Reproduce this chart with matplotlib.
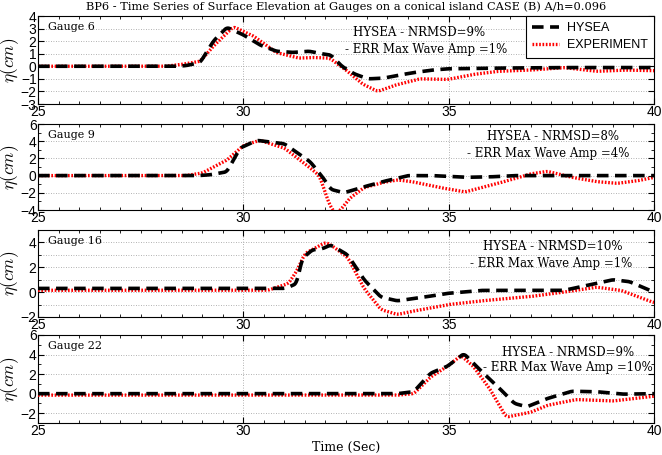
import numpy as np
import matplotlib
matplotlib.use('Agg')
import matplotlib.pyplot as plt
from matplotlib.ticker import MultipleLocator

# Gauge 6
t_hy6 = [25, 28.3, 28.6, 28.95, 29.27, 29.6, 30.0, 30.4, 30.8, 31.2, 31.6, 31.9, 32.13, 32.4, 32.7, 33.03, 33.4, 33.8, 34.15, 34.6, 34.97, 36, 37, 38, 39, 40]
e_hy6 = [0, 0, 0.05, 0.3, 2.0, 3.1, 2.5, 1.7, 1.2, 1.1, 1.2, 1.0, 0.9, 0.0, -0.6, -1.0, -0.95, -0.7, -0.5, -0.3, -0.2, -0.15, -0.12, -0.1, -0.1, -0.1]
t_ex6 = [25, 28.1, 28.5, 28.95, 29.27, 29.76, 30.25, 30.8, 31.35, 31.7, 32.1, 32.5, 32.9, 33.27, 33.7, 34.3, 34.97, 35.6, 36.2, 37.0, 37.8, 38.6, 39.3, 40]
e_ex6 = [0, 0, 0.15, 0.4, 1.6, 3.15, 2.4, 1.1, 0.65, 0.7, 0.65, -0.3, -1.4, -2.0, -1.5, -1.0, -1.05, -0.65, -0.4, -0.3, -0.1, -0.4, -0.3, -0.35]

# Gauge 9
t_hy9 = [25, 28.9, 29.2, 29.6, 29.92, 30.33, 31.0, 31.63, 31.95, 32.13, 32.45, 32.94, 33.4, 33.75, 34.0, 34.6, 35.4, 36.0, 36.6, 38, 40]
e_hy9 = [0, 0, 0.1, 0.45, 3.2, 4.1, 3.7, 1.6, -0.3, -1.6, -2.0, -1.3, -0.7, -0.3, 0.0, 0.0, -0.2, -0.15, 0.0, 0.0, 0.0]
t_ex9 = [25, 28.6, 29.0, 29.6, 30.0, 30.4, 31.0, 31.6, 31.85, 32.1, 32.25, 32.4, 32.6, 32.94, 33.4, 33.75, 34.1, 34.8, 35.4, 36.2, 37.0, 37.4, 38.0, 38.6, 39.1, 39.6, 40]
e_ex9 = [0, 0, 0.3, 1.8, 3.5, 4.1, 3.2, 1.0, 0.0, -3.4, -4.5, -3.8, -2.6, -1.4, -0.8, -0.5, -0.7, -1.4, -1.9, -0.9, 0.2, 0.5, -0.2, -0.7, -0.9, -0.6, -0.2]

# Gauge 16
t_hy16 = [25, 31.0, 31.1, 31.3, 31.43, 31.68, 31.93, 32.13, 32.54, 32.94, 33.35, 33.75, 34.4, 34.97, 35.8, 37.8, 38.6, 39.0, 39.4, 40]
e_hy16 = [0.3, 0.3, 0.4, 0.7, 2.7, 3.4, 3.5, 3.8, 3.0, 1.0, -0.4, -0.7, -0.4, -0.1, 0.14, 0.14, 0.7, 1.0, 0.85, 0.0]
t_ex16 = [25, 30.6, 31.1, 31.3, 31.5, 32.0, 32.13, 32.54, 32.94, 33.35, 33.75, 34.1, 35.0, 35.8, 37.0, 37.8, 38.6, 39.2, 40]
e_ex16 = [0.15, 0.15, 0.7, 1.7, 3.1, 4.0, 3.8, 2.8, 0.3, -1.4, -1.8, -1.55, -1.0, -0.7, -0.35, 0.0, 0.4, 0.14, -0.85]

# Gauge 22
t_hy22 = [25, 33.75, 34.15, 34.56, 34.97, 35.37, 35.77, 36.2, 36.6, 36.9, 37.4, 38.0, 38.6, 39.25, 40]
e_hy22 = [0, 0, 0.2, 2.1, 2.8, 4.1, 2.4, 0.7, -1.0, -1.35, -0.5, 0.25, 0.2, -0.05, 0.0]
t_ex22 = [25, 33.75, 34.15, 34.56, 34.97, 35.3, 35.6, 36.0, 36.4, 37.0, 37.4, 38.1, 39.0, 40]
e_ex22 = [-0.15, -0.15, 0.0, 1.7, 2.8, 3.9, 2.8, 0.5, -2.4, -1.9, -1.2, -0.6, -0.75, -0.25]

gauges = ['Gauge 6', 'Gauge 9', 'Gauge 16', 'Gauge 22']
nrmsd = ['9%', '8%', '10%', '9%']
err_amp = ['1%', '4%', '1%', '10%']
ylims = [(-3, 4), (-4, 6), (-2, 5), (-3, 6)]

hysea = [(t_hy6, e_hy6), (t_hy9, e_hy9), (t_hy16, e_hy16), (t_hy22, e_hy22)]
exper = [(t_ex6, e_ex6), (t_ex9, e_ex9), (t_ex16, e_ex16), (t_ex22, e_ex22)]


def smooth(t, e):
    tt = np.linspace(t[0], t[-1], 800)
    ee = np.interp(tt, t, e)
    k = np.ones(7) / 7
    ee = np.convolve(np.pad(ee, 3, mode='edge'), k, mode='valid')
    return tt, ee


plt.rcParams['mathtext.fontset'] = 'cm'
sans = 'Liberation Sans'
serif = 'DejaVu Serif'

fig = plt.figure(figsize=(6.62, 4.55), dpi=100)
W, H = 662, 455
boxes = [(16, 104), (124, 210), (230, 317), (335, 423)]
text_pos = [((419, 33), (426, 50)), ((553, 136), (548, 154)),
            ((553, 247), (551, 264)), ((568, 352), (568, 368))]

for i in range(4):
    top, bot = boxes[i]
    ax = fig.add_axes([38 / W, 1 - bot / H, 616 / W, (bot - top) / H])
    th, eh = smooth(*hysea[i])
    tx, ex = smooth(*exper[i])
    ax.plot(tx, ex, color='red', lw=2.4, linestyle=(0, (0.5, 0.5)), label='EXPERIMENT', zorder=3)
    ax.plot(th, eh, color='black', lw=2.6, linestyle=(0, (3.2, 1.8)), label='HYSEA', zorder=4)
    ax.set_xlim(25, 40)
    ax.set_ylim(*ylims[i])
    ax.xaxis.set_major_locator(MultipleLocator(5))
    ax.xaxis.set_minor_locator(MultipleLocator(0.5))
    if i == 0:
        ax.yaxis.set_major_locator(MultipleLocator(1))
    else:
        ax.yaxis.set_major_locator(MultipleLocator(2))
        ax.yaxis.set_minor_locator(MultipleLocator(1))
    ax.grid(True, which='major', linestyle=(0, (1, 2)), color='#999999', lw=0.6)
    if i == 2:
        ax.grid(True, which='minor', axis='y', linestyle=(0, (1, 2)), color='#999999', lw=0.6)
    ax.tick_params(which='both', direction='in', top=True, right=True, labelsize=10, pad=1)
    ax.tick_params(which='major', length=4)
    ax.tick_params(which='minor', length=2.5)
    for lab in ax.get_xticklabels() + ax.get_yticklabels():
        lab.set_family(sans)
    for s in ax.spines.values():
        s.set_linewidth(0.8)
    ax.set_ylabel(r'$\eta(cm)$', fontsize=12.5)
    ax.yaxis.set_label_coords(-0.027, 0.5)
    ax.text(0.016, 0.84, gauges[i], transform=ax.transAxes, family=serif, fontsize=8)
    (x1, y1), (x2, y2) = text_pos[i]
    fig.text(x1 / W, 1 - y1 / H, 'HYSEA - NRMSD=' + nrmsd[i], family=serif, fontsize=8.5,
             ha='center', va='center')
    fig.text(x2 / W, 1 - y2 / H, '- ERR Max Wave Amp =' + err_amp[i], family=serif, fontsize=8.5,
             ha='center', va='center')
    if i == 0:
        handles, labels = ax.get_legend_handles_labels()
        leg = ax.legend(handles[::-1], labels[::-1], loc='upper right', prop={'family': sans, 'size': 9},
                        frameon=True, fancybox=False, edgecolor='black', framealpha=1,
                        borderaxespad=0.0, handlelength=2.2, handletextpad=0.6,
                        borderpad=0.5, labelspacing=0.4)
        leg.get_frame().set_linewidth(0.8)
        ax.set_title('BP6 - Time Series of Surface Elevation at Gauges on a conical island CASE (B) A/h=0.096',
                     family=serif, fontsize=8.2, pad=4)
    if i == 3:
        ax.set_xlabel('Time (Sec)', family=serif, fontsize=9, labelpad=1.5)

fig.savefig('out.png', dpi=100)
